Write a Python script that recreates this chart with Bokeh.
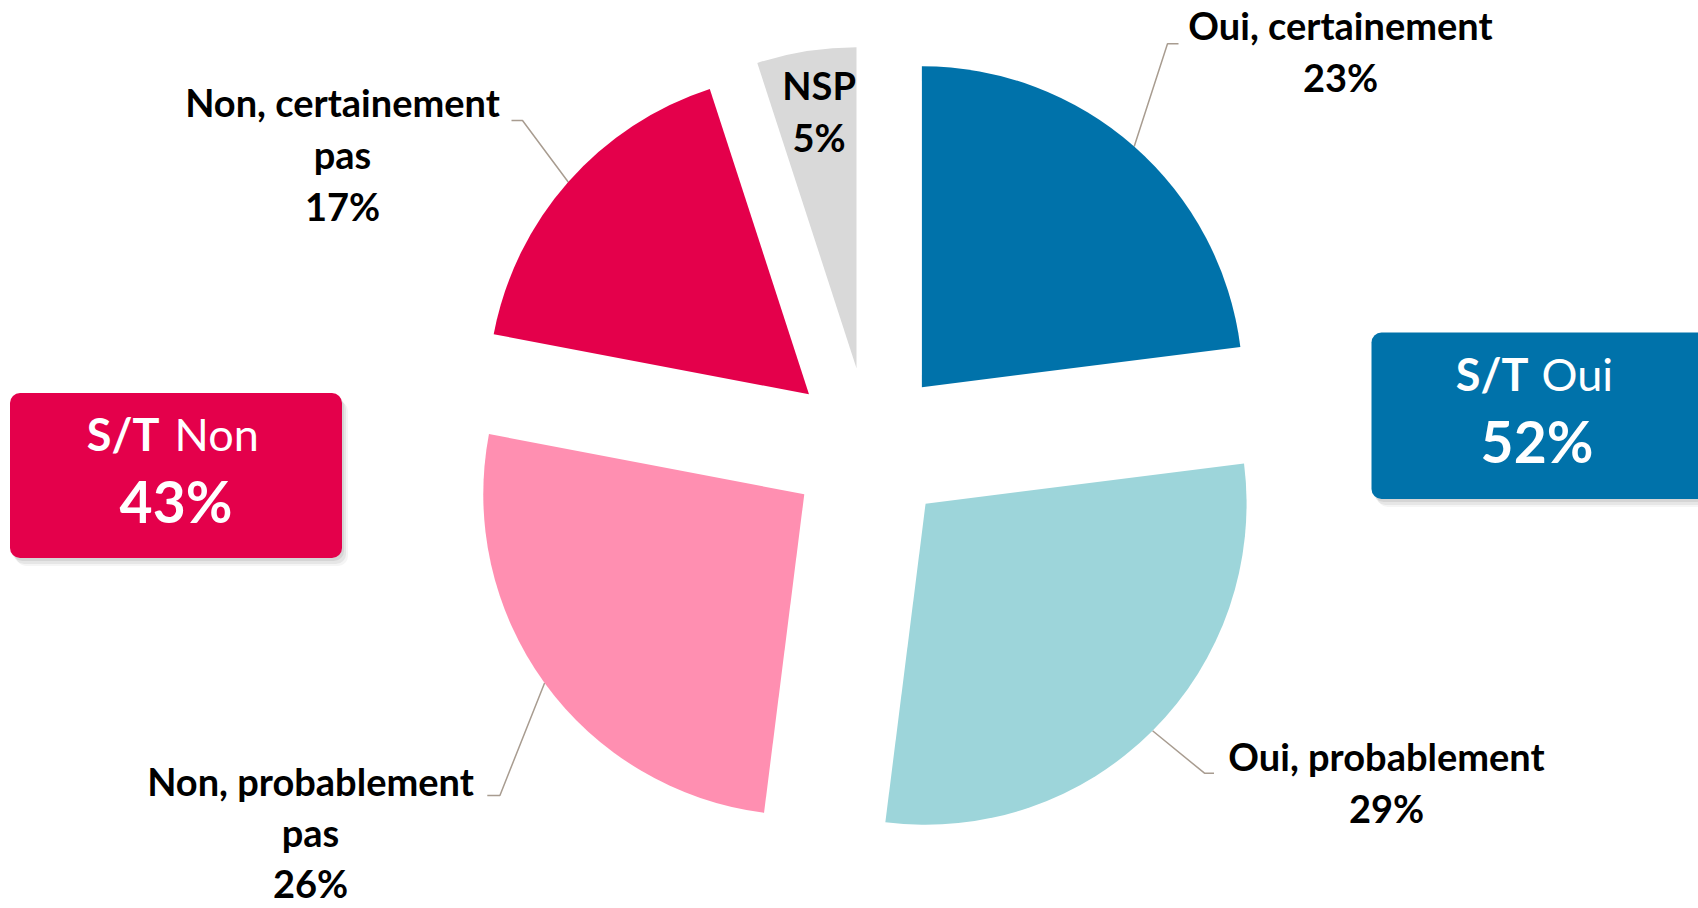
import numpy as np
from bokeh.plotting import figure
from bokeh.models import Range1d
from bokeh.embed import file_html
from bokeh.resources import INLINE
from bokeh.core.properties import value

# ---------------- data ----------------
categories = ["Oui, certainement", "Oui, probablement", "Non, probablement pas",
              "Non, certainement pas", "NSP"]
values = [23, 29, 26, 17, 5]
colors = ["#0072AA", "#9DD5DA", "#FF8FB1", "#E4004B", "#D9D9D9"]
label_lines = [["Oui, certainement"], ["Oui, probablement"],
               ["Non, probablement", "pas"], ["Non, certainement", "pas"], ["NSP"]]
groups = ["Oui", "Non"]
group_members = [[0, 1], [2, 3]]
group_colors = ["#0072AA", "#E4004B"]

# ---------------- layout (screen px of the page) ----------------
W, H = 1698, 908
def dx(x):  # page x -> data x
    return x
def dy(y):  # page y -> data y
    return H - y

BASE_FIX = 0.41  # baseline correction, in em

cx, cy = dx(868.5), dy(446.7)
R = 321.0
EXPLODE = 80.0

label_pos = [(1340, 40), (1386, 770.7), (310, 796), (342, 116.7), (818.6, 100)]
line_step = [52, 52, 51, 52, 52]
leader_elbow = [((1167, 43.3), (1178, 43.3)), ((1204, 772.7), (1213.5, 772.7)),
                ((499.4, 795), (486.8, 795)), ((522, 120), (511, 120)), None]

box_rects = [(1371, 1710, 332, 498.5), (9.5, 341.5, 392.5, 557.5)]  # left,right,top,bottom
box_split = [(1528, 1541), (159, 174)]
box_base = [(391.7, 464), (451.7, 524)]

p = figure(width=W, height=H, x_range=Range1d(0, W), y_range=Range1d(0, H),
           output_backend="svg", toolbar_location=None, min_border=0,
           x_axis_type=None, y_axis_type=None)
p.grid.visible = False
p.outline_line_color = None
p.background_fill_color = "white"
p.border_fill_color = "white"

total = float(sum(values))
cum = np.concatenate([[0], np.cumsum(values)]) / total
fonts = value("Lato")

def txt(x, y, t, size, bold=True, align="center", color="black"):
    p.text(x=[dx(x)], y=[dy(y - BASE_FIX * size)], text=[t], text_font=fonts,
           text_font_style="bold" if bold else "normal", text_font_size=f"{size}px",
           text_align=align, text_baseline="alphabetic", text_color=color)

xs, ys, starts, ends = [], [], [], []
for i, v in enumerate(values):
    f0, f1 = cum[i], cum[i + 1]
    fm = (f0 + f1) / 2
    mid = np.pi / 2 - 2 * np.pi * fm
    ox, oy = cx + EXPLODE * np.cos(mid), cy + EXPLODE * np.sin(mid)
    xs.append(ox); ys.append(oy)
    starts.append(np.pi / 2 - 2 * np.pi * f1)
    ends.append(np.pi / 2 - 2 * np.pi * f0)
    # leader line
    if leader_elbow[i] is not None:
        ax, ay = ox + R * np.cos(mid), oy + R * np.sin(mid)
        (ex, ey), (tx, ty) = leader_elbow[i]
        p.line([ax, dx(ex), dx(tx)], [ay, dy(ey), dy(ty)], line_color="#A89C90", line_width=1.5)

p.wedge(x=xs, y=ys, radius=R, start_angle=starts, end_angle=ends,
        fill_color=colors, line_color=None)

# labels
for i, v in enumerate(values):
    lines = label_lines[i] + [f"{v}%"]
    lx, ly = label_pos[i]
    for k, t in enumerate(lines):
        txt(lx, ly + k * line_step[i], t, 38)

# summary boxes
for g, name in enumerate(groups):
    l, r, t, b = box_rects[g]
    for k, (ox, oy, a) in enumerate([(2, 3, 0.10), (4, 6, 0.08), (6, 8, 0.05)]):
        p.quad(left=[dx(l + ox)], right=[dx(r + ox)], top=[dy(t + oy)], bottom=[dy(b + oy)],
               fill_color="#404040", fill_alpha=a, line_color=None, border_radius=10)
    p.quad(left=[dx(l)], right=[dx(r)], top=[dy(t)], bottom=[dy(b)],
           fill_color=group_colors[g], line_color=None, border_radius=10)
    s1, s2 = box_split[g]
    b1, b2 = box_base[g]
    txt(s1, b1, "S/T", 45, bold=True, align="right", color="white")
    txt(s2, b1, name, 45, bold=False, align="left", color="white")
    pct = sum(values[j] for j in group_members[g])
    txt((l + min(r, 1698)) / 2 + (0 if g else 2), b2, f"{pct}%", 57, color="white")

open("out.html", "w").write(file_html(p, INLINE))
